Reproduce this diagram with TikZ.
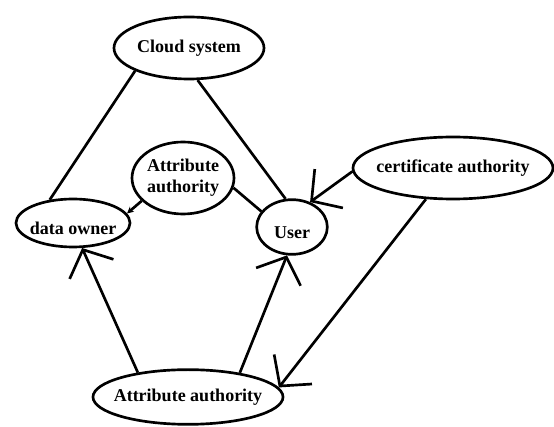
\documentclass[tikz,border=0pt]{standalone}
\usepackage{fontspec}
\setmainfont{Liberation Serif}
\usepackage{tikz}
\usetikzlibrary{shapes,arrows.meta}

\newcommand{\wideLabel}[2][0pt]{\makebox[0pt]{\raisebox{#1}[\height][\depth]{#2}}}

\begin{document}
\begin{tikzpicture}[x=0.75pt,y=-0.75pt,
        entity/.style={ellipse,draw,line width=2pt,inner sep=0pt,align=center,
                       font=\fontsize{13.5}{16}\selectfont\bfseries},
        link/.style={line width=2pt},
        flow/.style={line width=2pt,-{Straight Barb[length=16pt,width=36pt]}}]
    \useasboundingbox (0,0) rectangle (554,427);

    \node[entity,minimum width=112.5pt,minimum height=46.5pt] (cloud) at (189,48) {\wideLabel{Cloud system}};
    \node[entity,minimum width=76.5pt,minimum height=54pt] (attrMid) at (183,178) {Attribute\\authority};
    \node[entity,minimum width=85.5pt,minimum height=36pt] (owner) at (73,223) {\wideLabel[-4pt]{data owner}};
    \node[entity,minimum width=53pt,minimum height=41pt] (user) at (292,227) {\wideLabel[-4pt]{User}};
    \node[entity,minimum width=150pt,minimum height=46.5pt] (certAuth) at (453,168) {\wideLabel{certificate authority}};
    \node[entity,minimum width=142.5pt,minimum height=41pt] (attrBot) at (188,397) {\wideLabel{Attribute authority}};

    \draw[link] (cloud.203) -- (owner.135);
    \draw[link] (cloud.285) -- (user.103);
    \draw[link] (attrMid.349) -- (user.153);
    \draw[link,-{Stealth[length=5pt,width=5pt]}] (attrMid.209) -- (owner.10);
    \draw[flow] (certAuth.182) -- (user.54);
    \draw[flow] (attrBot.154) -- (owner.290);
    \draw[flow] (attrBot.25) -- (user.260);
    \draw[flow] (certAuth.229) -- (attrBot.6);
\end{tikzpicture}
\end{document}
